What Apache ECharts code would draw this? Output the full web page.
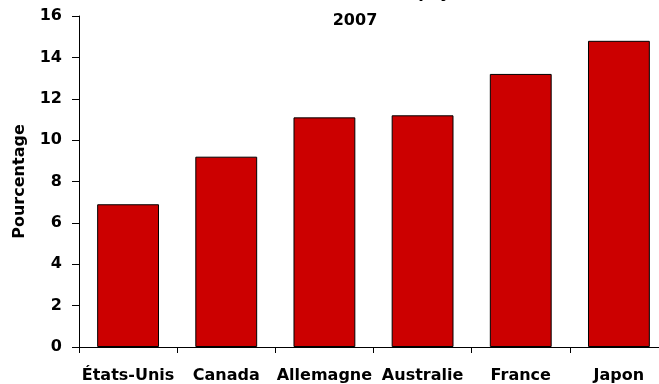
<!DOCTYPE html>
<html><head><meta charset="utf-8">
<script src="https://cdn.jsdelivr.net/npm/echarts@6/dist/echarts.min.js"></script>
<style>html,body{margin:0;padding:0;background:#fff;overflow:hidden}#c{width:668px;height:384px}</style>
</head><body><div id="c"></div>
<script>
var categories = ['États-Unis', 'Canada', 'Allemagne', 'Australie', 'France', 'Japon'];
var values = [6.9, 9.2, 11.1, 11.2, 13.2, 14.8];
var yTicks = [0, 2, 4, 6, 8, 10, 12, 14, 16];
var titleLines = ['Taux dans certains pays,', '2007'];

var chart = echarts.init(document.getElementById('c'));
var font = '"DejaVu Sans", Verdana, sans-serif';
chart.setOption({
  animation: false,
  title: {
    text: titleLines.join('\n'),
    left: 350, top: -25, textAlign: 'center',
    textStyle: { fontFamily: font, fontWeight: 'bold', fontSize: 16, lineHeight: 27, color: '#000' }
  },
  grid: { left: 79, right: 0, top: 16, bottom: 37 },
  xAxis: {
    type: 'category', data: categories,
    axisLine: { lineStyle: { color: '#000', width: 1 } },
    axisTick: { show: true, length: 6, alignWithLabel: false, lineStyle: { color: '#000' } },
    axisLabel: { fontFamily: font, fontWeight: 'bold', fontSize: 16, color: '#000', margin: 21, interval: 0 }
  },
  yAxis: {
    type: 'value', min: 0, max: 16, interval: 2,
    name: 'Pourcentage', nameLocation: 'middle', nameGap: 51, nameRotate: 90,
    nameTextStyle: { fontFamily: font, fontWeight: 'bold', fontSize: 16, color: '#000' },
    splitLine: { show: false },
    axisLine: { show: true, lineStyle: { color: '#000', width: 1 } },
    axisTick: { show: true, length: 7, lineStyle: { color: '#000' } },
    axisLabel: { fontFamily: font, fontWeight: 'bold', fontSize: 16, color: '#000', margin: 17,
      formatter: function (v) { return yTicks.indexOf(v) >= 0 ? String(v) : ''; } }
  },
  series: [{
    type: 'bar', data: values, barCategoryGap: '37%',
    itemStyle: { color: '#CC0000', borderColor: '#000', borderWidth: 1 }
  }]
});
</script></body></html>
